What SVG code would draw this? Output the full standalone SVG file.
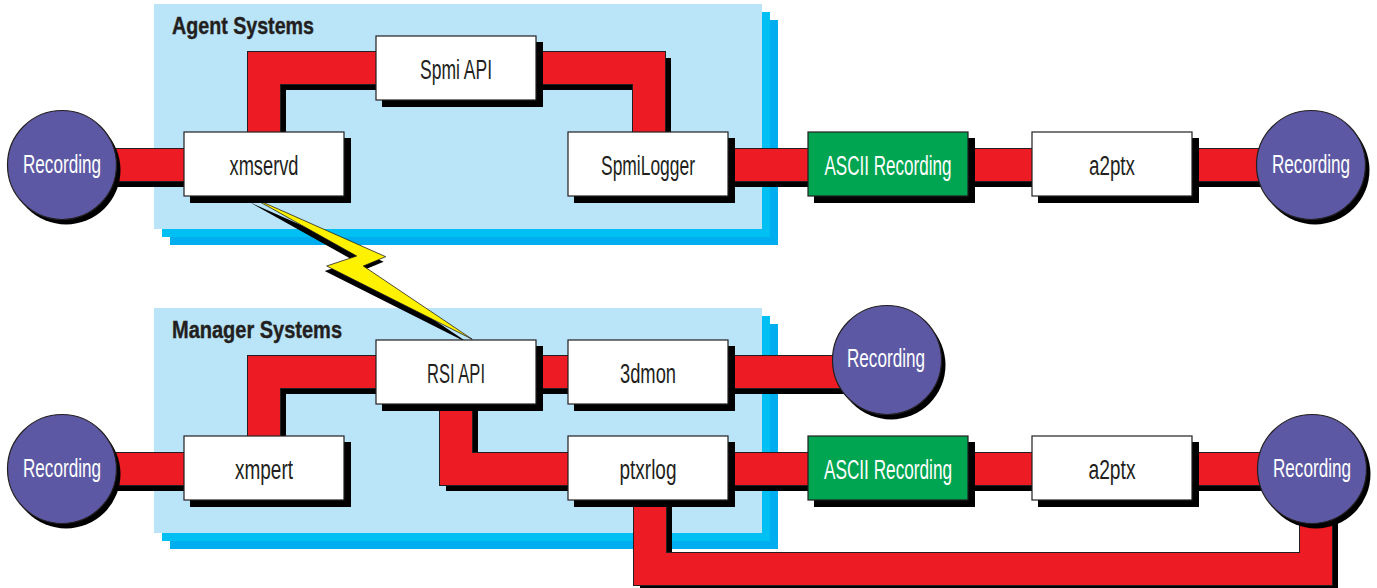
<svg xmlns="http://www.w3.org/2000/svg" xmlns:xlink="http://www.w3.org/1999/xlink" width="1377" height="588" viewBox="0 0 1377 588">
  <defs>
    <style>
      .panel-back { fill: #00AEEF; }
      .panel-mid { fill: #00BFF3; }
      .panel-face { fill: #BAE4F8; }
      .panel-title { font-family: "Liberation Sans", "DejaVu Sans", sans-serif; font-weight: bold; font-size: 24px; fill: #231F20; stroke: #231F20; stroke-width: 0.4; }
      .shadow { fill: #000; }
      .box { fill: #FFFFFF; stroke: #231F20; stroke-width: 1.2; }
      .box-green { fill: #00A551; stroke: #231F20; stroke-width: 1.2; }
      .disk { fill: #5C58A4; stroke: #231F20; stroke-width: 1.2; }
      .label { font-family: "Liberation Sans", "DejaVu Sans", sans-serif; font-size: 27px; text-anchor: middle; fill: #231F20; }
      .label-light { fill: #FFFFFF; }
      .disk-label { font-size: 26px; }
      .wire-shadow { fill: none; stroke: #000; stroke-width: 32; stroke-linejoin: miter; stroke-linecap: butt; }
      .wire-edge { fill: none; stroke: #231F20; stroke-width: 34; stroke-linejoin: miter; stroke-linecap: butt; }
      .wire-fill { fill: none; stroke: #ED1C24; stroke-width: 32; stroke-linejoin: miter; stroke-linecap: butt; }
      .bolt { fill: #FFF200; stroke: #231F20; stroke-width: 0.8; stroke-linejoin: miter; }
    </style>
    <!-- connector routes (centre lines of the red bands) -->
    <path id="w-rec1-xmservd" d="M62 165H184"/>
    <path id="w-xmservd-spmiapi" d="M264 132V68H376"/>
    <path id="w-spmiapi-spmilogger" d="M536 68H649V132"/>
    <path id="w-spmilogger-ascii1" d="M728 165H808"/>
    <path id="w-ascii1-a2ptx1" d="M968 165H1032"/>
    <path id="w-a2ptx1-rec2" d="M1192 165H1300"/>
    <path id="w-rec4-xmpert" d="M62 469H184"/>
    <path id="w-xmpert-rsiapi" d="M264 436V372H376"/>
    <path id="w-rsiapi-3dmon" d="M536 372H568"/>
    <path id="w-3dmon-rec3" d="M728 372H880"/>
    <path id="w-rsiapi-ptxrlog" d="M456 404V469H568"/>
    <path id="w-ptxrlog-ascii2" d="M728 469H808"/>
    <path id="w-ascii2-a2ptx2" d="M968 469H1032"/>
    <path id="w-a2ptx2-rec5" d="M1192 469H1300"/>
    <path id="w-ptxrlog-rec5" d="M650 500V569H1316V490"/>
    <polygon id="bolt-shape" points="251.7,197.3 385.7,256.7 363.3,266 472.3,339.3 326.7,266 356.7,256"/>
  </defs>

  <!-- system panels -->
  <g id="agent-systems">
    <rect class="panel-back" x="170" y="20" width="608" height="225"/>
    <rect class="panel-mid" x="162" y="12" width="608" height="225"/>
    <rect class="panel-face" x="154" y="4" width="608" height="225"/>
    <text class="panel-title" x="172" y="34" textLength="142" lengthAdjust="spacingAndGlyphs">Agent Systems</text>
  </g>
  <g id="manager-systems">
    <rect class="panel-back" x="170" y="324" width="608" height="225"/>
    <rect class="panel-mid" x="162" y="316" width="608" height="225"/>
    <rect class="panel-face" x="154" y="308" width="608" height="225"/>
    <text class="panel-title" x="172" y="338" textLength="170" lengthAdjust="spacingAndGlyphs">Manager Systems</text>
  </g>

  <!-- connectors -->
  <g id="connectors">
    <g id="link-xmservd-rsiapi">
      <use xlink:href="#bolt-shape" href="#bolt-shape" class="shadow" transform="translate(-2,5)"/>
      <use xlink:href="#bolt-shape" href="#bolt-shape" class="bolt"/>
    </g>
    <g class="wire-shadow" transform="translate(6,6)">
      <use href="#w-rec1-xmservd"/><use href="#w-xmservd-spmiapi"/><use href="#w-spmiapi-spmilogger"/>
      <use href="#w-spmilogger-ascii1"/><use href="#w-ascii1-a2ptx1"/><use href="#w-a2ptx1-rec2"/>
      <use href="#w-rec4-xmpert"/><use href="#w-xmpert-rsiapi"/><use href="#w-rsiapi-3dmon"/>
      <use href="#w-3dmon-rec3"/><use href="#w-rsiapi-ptxrlog"/><use href="#w-ptxrlog-ascii2"/>
      <use href="#w-ascii2-a2ptx2"/><use href="#w-a2ptx2-rec5"/><use href="#w-ptxrlog-rec5"/>
    </g>
    <g class="wire-edge">
      <use href="#w-rec1-xmservd"/><use href="#w-xmservd-spmiapi"/><use href="#w-spmiapi-spmilogger"/>
      <use href="#w-spmilogger-ascii1"/><use href="#w-ascii1-a2ptx1"/><use href="#w-a2ptx1-rec2"/>
      <use href="#w-rec4-xmpert"/><use href="#w-xmpert-rsiapi"/><use href="#w-rsiapi-3dmon"/>
      <use href="#w-3dmon-rec3"/><use href="#w-rsiapi-ptxrlog"/><use href="#w-ptxrlog-ascii2"/>
      <use href="#w-ascii2-a2ptx2"/><use href="#w-a2ptx2-rec5"/><use href="#w-ptxrlog-rec5"/>
    </g>
    <g class="wire-fill">
      <use href="#w-rec1-xmservd"/><use href="#w-xmservd-spmiapi"/><use href="#w-spmiapi-spmilogger"/>
      <use href="#w-spmilogger-ascii1"/><use href="#w-ascii1-a2ptx1"/><use href="#w-a2ptx1-rec2"/>
      <use href="#w-rec4-xmpert"/><use href="#w-xmpert-rsiapi"/><use href="#w-rsiapi-3dmon"/>
      <use href="#w-3dmon-rec3"/><use href="#w-rsiapi-ptxrlog"/><use href="#w-ptxrlog-ascii2"/>
      <use href="#w-ascii2-a2ptx2"/><use href="#w-a2ptx2-rec5"/><use href="#w-ptxrlog-rec5"/>
    </g>
  </g>

  <!-- recording stores -->
  <g id="recording-1">
    <circle class="shadow" cx="66" cy="170" r="54.5"/>
    <circle class="disk" cx="62" cy="165" r="54.5"/>
    <text class="label label-light disk-label" x="62" y="173" textLength="78" lengthAdjust="spacingAndGlyphs">Recording</text>
  </g>
  <g id="recording-2">
    <circle class="shadow" cx="1315" cy="170" r="54.5"/>
    <circle class="disk" cx="1311" cy="165" r="54.5"/>
    <text class="label label-light disk-label" x="1311" y="173" textLength="78" lengthAdjust="spacingAndGlyphs">Recording</text>
  </g>
  <g id="recording-3">
    <circle class="shadow" cx="891" cy="365" r="54.5"/>
    <circle class="disk" cx="887" cy="360" r="54.5"/>
    <text class="label label-light disk-label" x="886" y="367" textLength="78" lengthAdjust="spacingAndGlyphs">Recording</text>
  </g>
  <g id="recording-4">
    <circle class="shadow" cx="66" cy="474" r="54.5"/>
    <circle class="disk" cx="62" cy="469" r="54.5"/>
    <text class="label label-light disk-label" x="62" y="477" textLength="78" lengthAdjust="spacingAndGlyphs">Recording</text>
  </g>
  <g id="recording-5">
    <circle class="shadow" cx="1316" cy="474" r="54.5"/>
    <circle class="disk" cx="1312" cy="469" r="54.5"/>
    <text class="label label-light disk-label" x="1312" y="477" textLength="78" lengthAdjust="spacingAndGlyphs">Recording</text>
  </g>

  <!-- agent side processes -->
  <g id="xmservd">
    <rect class="shadow" x="190" y="138" width="161" height="65"/>
    <rect class="box" x="184" y="132" width="160" height="64"/>
    <text class="label" x="264" y="175" textLength="69" lengthAdjust="spacingAndGlyphs">xmservd</text>
  </g>
  <g id="spmi-api">
    <rect class="shadow" x="382" y="42" width="161" height="65"/>
    <rect class="box" x="376" y="36" width="160" height="64"/>
    <text class="label" x="456" y="79" textLength="72" lengthAdjust="spacingAndGlyphs">Spmi API</text>
  </g>
  <g id="spmilogger">
    <rect class="shadow" x="574" y="138" width="161" height="65"/>
    <rect class="box" x="568" y="132" width="160" height="64"/>
    <text class="label" x="648" y="175" textLength="94" lengthAdjust="spacingAndGlyphs">SpmiLogger</text>
  </g>
  <g id="ascii-recording-1">
    <rect class="shadow" x="814" y="138" width="161" height="65"/>
    <rect class="box-green" x="808" y="132" width="160" height="64"/>
    <text class="label label-light" x="888" y="175" textLength="127" lengthAdjust="spacingAndGlyphs">ASCII Recording</text>
  </g>
  <g id="a2ptx-1">
    <rect class="shadow" x="1038" y="138" width="161" height="65"/>
    <rect class="box" x="1032" y="132" width="160" height="64"/>
    <text class="label" x="1112" y="175" textLength="46" lengthAdjust="spacingAndGlyphs">a2ptx</text>
  </g>

  <!-- manager side processes -->
  <g id="xmpert">
    <rect class="shadow" x="190" y="442" width="161" height="65"/>
    <rect class="box" x="184" y="436" width="160" height="64"/>
    <text class="label" x="264" y="479" textLength="58" lengthAdjust="spacingAndGlyphs">xmpert</text>
  </g>
  <g id="rsi-api">
    <rect class="shadow" x="382" y="346" width="161" height="65"/>
    <rect class="box" x="376" y="340" width="160" height="64"/>
    <text class="label" x="456" y="383" textLength="58" lengthAdjust="spacingAndGlyphs">RSI API</text>
  </g>
  <g id="3dmon">
    <rect class="shadow" x="574" y="346" width="161" height="65"/>
    <rect class="box" x="568" y="340" width="160" height="64"/>
    <text class="label" x="648" y="383" textLength="56" lengthAdjust="spacingAndGlyphs">3dmon</text>
  </g>
  <g id="ptxrlog">
    <rect class="shadow" x="574" y="442" width="161" height="65"/>
    <rect class="box" x="568" y="436" width="160" height="64"/>
    <text class="label" x="648" y="479" textLength="57" lengthAdjust="spacingAndGlyphs">ptxrlog</text>
  </g>
  <g id="ascii-recording-2">
    <rect class="shadow" x="814" y="442" width="161" height="65"/>
    <rect class="box-green" x="808" y="436" width="160" height="64"/>
    <text class="label label-light" x="888" y="479" textLength="128" lengthAdjust="spacingAndGlyphs">ASCII Recording</text>
  </g>
  <g id="a2ptx-2">
    <rect class="shadow" x="1038" y="442" width="161" height="65"/>
    <rect class="box" x="1032" y="436" width="160" height="64"/>
    <text class="label" x="1112" y="479" textLength="47" lengthAdjust="spacingAndGlyphs">a2ptx</text>
  </g>
</svg>
